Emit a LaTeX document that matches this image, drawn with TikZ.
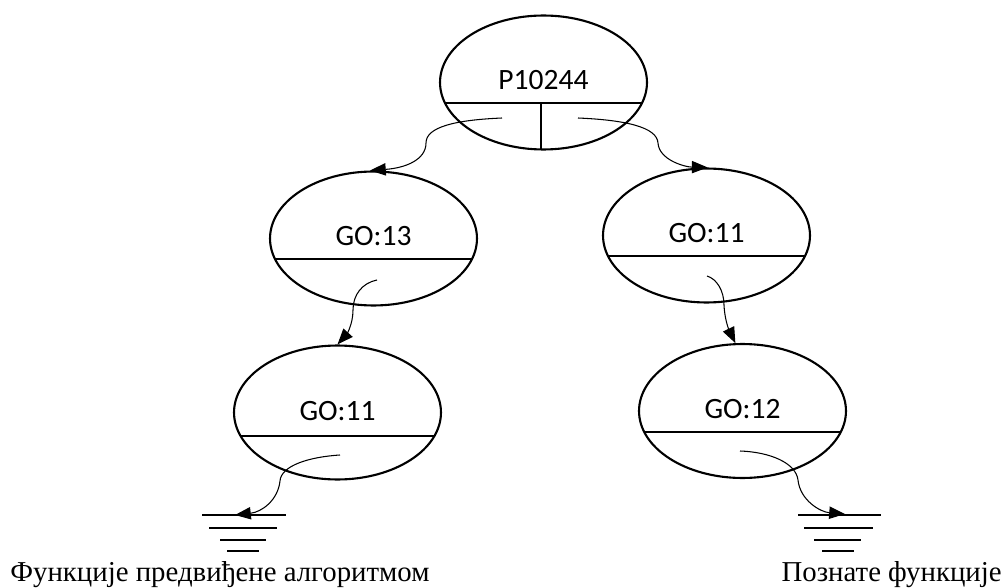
\documentclass[tikz,border=0pt]{standalone}
\usepackage{fontspec}
\setmainfont{Liberation Serif}
\newfontfamily\calfont{Carlito}
\usetikzlibrary{shapes.geometric,arrows.meta,calc}
\tikzset{
  term/.style={ellipse, draw, line width=1.2pt, minimum width=4.14cm, minimum height=2.68cm, inner sep=0pt},
  lbl/.style={font=\calfont\fontsize{16.8}{19}\selectfont, inner sep=0pt},
  chord/.style={line width=0.6pt},
  conn/.style={line width=0.6pt, -{Triangle[length=9pt,width=7pt]}},
  gnd/.style={line width=0.7pt},
  caption/.style={font=\fontsize{16.4}{19}\selectfont, inner sep=0pt}
}
\begin{document}
\begin{tikzpicture}[x=0.02cm,y=-0.02cm]
\useasboundingbox (0,0) rectangle (1005,588);
% nodes
\node[term] (p) at (543.5,82.5) {};
\node[lbl] (pt) at (543.5,80.5) {P10244};
\node[term] (a) at (373.5,238.5) {};
\node[lbl] (at) at (373.5,236) {GO:13};
\node[term] (b) at (706.5,235.5) {};
\node[lbl] (bt) at (706.5,233) {GO:11};
\node[term] (c) at (337.5,412.5) {};
\node[lbl] (ct) at (337.5,411) {GO:11};
\node[term] (d) at (742.5,411) {};
\node[lbl] (dt) at (742.5,409) {GO:12};
% chords
\begin{scope}
  \clip (p.center) ellipse (103.5 and 67);
  \draw[chord] (430,103) -- (660,103);
  \draw[chord] (541,103) -- (541,160);
\end{scope}
\begin{scope}
  \clip (a.center) ellipse (103.5 and 67);
  \draw[chord] (260,259) -- (490,259);
\end{scope}
\begin{scope}
  \clip (b.center) ellipse (103.5 and 67);
  \draw[chord] (590,256) -- (820,256);
\end{scope}
\begin{scope}
  \clip (c.center) ellipse (103.5 and 67);
  \draw[chord] (220,436) -- (450,436);
\end{scope}
\begin{scope}
  \clip (d.center) ellipse (103.5 and 67);
  \draw[chord] (625,432) -- (860,432);
\end{scope}
% connector start points
\coordinate (s1) at (502,118);
\coordinate (s2) at (578,118);
\coordinate (s3) at (377,280);
\coordinate (s4) at (707,276);
\coordinate (s5) at (340,455);
\coordinate (s6) at (740,451);
% ground points
\coordinate (gl) at (235,515);
\coordinate (gr) at (845,514);
% connectors
\draw[conn] (s1) .. controls (455,120) and (426,127) .. (426,143) .. controls (426,160) and (405,168) .. (a.93);
\draw[conn] (s2) .. controls (625,120) and (657,127) .. (658,143) .. controls (659,160) and (685,167) .. (b.89);
\draw[conn] (s3) .. controls (362,283) and (353,295) .. (353,310) .. controls (353,325) and (346,335) .. (c.north);
\draw[conn] (s4) .. controls (717,279) and (724,291) .. (724,305) .. controls (725,324) and (731,334) .. (d.96);
\draw[conn] (s5) .. controls (308,457) and (281,466) .. (280,481) .. controls (278,500) and (262,512) .. (gl);
\draw[conn] (s6) .. controls (770,452) and (796,463) .. (798,480) .. controls (800,500) and (820,512) .. (gr);
% grounds
\draw[gnd] (202,515) -- (286,515);
\draw[gnd] (209,528) -- (277,528);
\draw[gnd] (220,540) -- (266,540);
\draw[gnd] (227,551) -- (259,551);
\draw[gnd] (798,515) -- (881,515);
\draw[gnd] (804,528) -- (873,528);
\draw[gnd] (814,540) -- (861,540);
\draw[gnd] (822,551) -- (854,551);
% captions
\node[caption, anchor=base west] (t1) at (10,581) {Функције предвиђене алгоритмом};
\node[caption, anchor=base east] (t2) at (1002,581) {Познате функције};
\end{tikzpicture}
\end{document}
